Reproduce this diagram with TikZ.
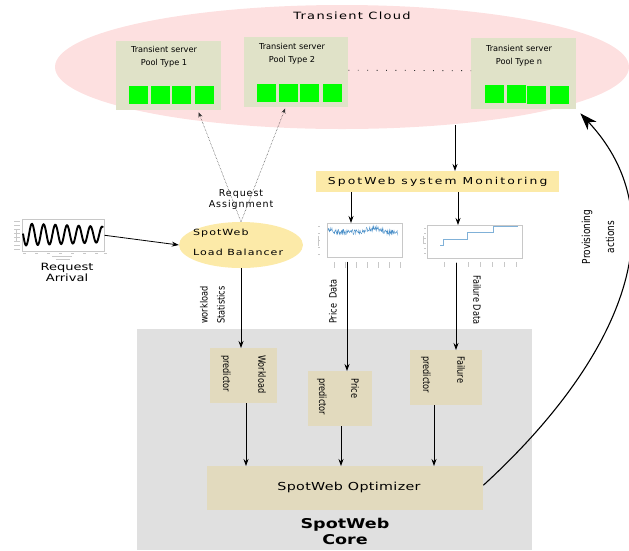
\documentclass[tikz,border=0pt]{standalone}
\usepackage{fontspec}
\setmainfont{DejaVu Sans}
\newfontfamily\widefont[LetterSpace=10]{DejaVu Sans}
\newfontfamily\extfont[FakeStretch=1.3]{DejaVu Sans}
\newfontfamily\condfont[FakeStretch=0.82]{DejaVu Sans}
\newcommand{\ls}[1]{\addfontfeature{LetterSpace=#1}}
\usetikzlibrary{arrows.meta,shapes.geometric,calc}
\definecolor{cloudpink}{HTML}{FDE0E0}
\definecolor{poolfill}{HTML}{E0E2C8}
\definecolor{srvgreen}{HTML}{00FF00}
\definecolor{yellowfill}{HTML}{FCEAA8}
\definecolor{corefill}{HTML}{E0E0E0}
\definecolor{predfill}{HTML}{E2DABE}
\definecolor{chartblue}{HTML}{4A8FC8}
\definecolor{chartgray}{HTML}{C8C8C8}
\tikzset{
  poolbox/.style={draw=none,fill=poolfill,inner sep=0,anchor=north west},
  srv/.style={draw=none,fill=srvgreen,inner sep=0,minimum width=19pt,minimum height=18pt,anchor=north west},
  pooltxt/.style={font=\fontsize{8.2}{13}\selectfont,align=center,inner sep=0},
  ybox/.style={draw=none,fill=yellowfill,inner sep=0,anchor=north west},
  predbox/.style={draw=none,fill=predfill,inner sep=0,anchor=north west},
  rlabel/.style={font=\condfont\fontsize{10}{12}\selectfont,inner sep=0},
  arr/.style={-{Stealth[length=7pt,width=5pt]},line width=0.8pt,black},
  dotarr/.style={densely dotted,line width=0.5pt,black!80,-{Stealth[length=5pt,width=4pt]}},
  chartframe/.style={draw=chartgray,line width=0.5pt},
  tick/.style={draw=chartgray,line width=0.4pt}
}
\begin{document}
\begin{tikzpicture}[x=1pt,y=-1pt]
\useasboundingbox (0,0) rectangle (629,550);
% core background
\node[draw=none,fill=corefill,inner sep=0,anchor=north west,minimum width=395pt,minimum height=221pt] (core) at (137,329) {};
% cloud
\node[ellipse,draw=none,fill=cloudpink,minimum width=574pt,minimum height=124pt,inner sep=0] (cloud) at (342,67) {};
\node[font=\extfont\ls{13}\fontsize{10}{13}\selectfont,inner sep=0] (cloudtitle) at (352,16) {Transient Cloud};
% pools
\node[poolbox,minimum width=105pt,minimum height=69pt] (pool1) at (116,41) {};
\node[poolbox,minimum width=104pt,minimum height=70pt] (pool2) at (244,37) {};
\node[poolbox,minimum width=105pt,minimum height=71pt] (pooln) at (471,38) {};
\node[pooltxt] (pool1t) at (164,57) {Transient server\\Pool Type 1};
\node[pooltxt] (pool2t) at (292,54) {Transient server\\Pool Type 2};
\node[pooltxt] (poolnt) at (519,56) {Transient server\\Pool Type n};
\node[srv] (s11) at (129,86) {};
\node[srv] (s12) at (151,86) {};
\node[srv] (s13) at (172,86) {};
\node[srv] (s14) at (195,86) {};
\node[srv] (s21) at (257,84) {};
\node[srv] (s22) at (279,84) {};
\node[srv] (s23) at (300,84) {};
\node[srv] (s24) at (323,84) {};
\node[srv] (sn1) at (485,85) {};
\node[srv] (sn2) at (507,85) {};
\node[srv] (sn3) at (527,86) {};
\node[srv] (sn4) at (550,86) {};
\draw[line width=0.9pt,black!80,dash pattern=on 0.9pt off 8.5pt] ($(pool2.east)+(0,-2)$) -- ($(pooln.west)+(0,-3)$);
% monitoring
\node[ybox,minimum width=243pt,minimum height=21pt,font=\extfont\ls{22}\fontsize{9.5}{11}\selectfont] (mon) at (316,171) {SpotWeb system Monitoring};
\coordinate (cloudout) at (455,125);
\draw[arr] (cloudout) -- (mon.north -| cloudout);
% load balancer
\node[ellipse,draw=none,fill=yellowfill,minimum width=124pt,minimum height=46pt,inner sep=0] (lb) at (241,245) {};
\node[font=\extfont\ls{12}\fontsize{8.5}{20}\selectfont,align=left,inner sep=0,anchor=west] (lbt) at (193,242) {SpotWeb\\Load Balancer};
\node[font=\widefont\fontsize{9.5}{11}\selectfont,align=center,inner sep=0] (ra) at (241,200) {Request\\Assignment};
\draw[dotarr] (lb.north) -- ($(pool1.south)+(30,2)$);
\draw[dotarr] (lb.north) -- ($(pool2.south)+(-11,1)$);
% request arrival chart
\node[chartframe,inner sep=0,minimum width=82pt,minimum height=32pt,anchor=north west] (rachart) at (22,219) {};
\foreach \yy in {221,225,229,233,237,241,245,249} \draw[tick] (14,\yy) -- (20,\yy);
\foreach \xx in {23,35,47,59,71,83,95,104} \draw[tick] (\xx,253) -- (\xx+3,253);
\draw[tick] (52,256) -- (72,256);
\draw[tick] (56,259) -- (70,259);
\draw[tick] (16,230) -- (16,242);
\draw[black,line width=1.9pt] plot[domain=23:103,samples=160,smooth] (\x,{234.5 - (11-0.04*(\x-23))*sin(30.77*(\x-29))});
\node[font=\extfont\fontsize{10}{11}\selectfont,align=center,inner sep=0] (rat) at (67,272) {Request\\Arrival};
\draw[arr] (rachart.east) -- (lb.west);
% price chart
\node[chartframe,inner sep=0,minimum width=75pt,minimum height=34pt,anchor=north west] (pchart) at (327,223) {};
\foreach \yy in {226,233,240,247,254} \draw[tick] (318,\yy) -- (320,\yy);
\foreach \xx in {334,345,356,367,378,389,400} \draw[tick] (\xx,262) -- (\xx,268);
\draw[tick] (318,236) -- (318,246);
\pgfmathsetseed{7}
\draw[chartblue,line width=0.4pt] plot[domain=328:398,samples=160] (\x,{232 - 4/(1+((\x-374)/9)^4) - 3/(1+((\x-330)/3)^2) + 0.8*(\x-328)/70 + 2.6*rand});
\coordinate (monp) at ($(mon.south west)+(35,0)$);
\draw[arr] (monp) -- (pchart.north -| monp);
% failure chart
\node[chartframe,inner sep=0,minimum width=95pt,minimum height=33pt,anchor=north west] (fchart) at (427,225) {};
\foreach \yy in {228,233,238,243,248,253} \draw[tick] (424,\yy) -- (426,\yy);
\foreach \xx in {444,456,468,480,492,504,516} \draw[tick] (\xx,262) -- (\xx,267);
\draw[tick] (423,236) -- (423,244);
\draw[chartblue!70,line width=0.5pt] (440,245) -- (443,245) -- (443,239) -- (467,239) -- (467,232) -- (493,232) -- (493,226) -- (518,226);
\draw[arr] ($(mon.south west)+(142,0)$) -- ($(fchart.north west)+(31,0)$);
% predictors
\node[predbox,minimum width=67pt,minimum height=55pt] (wp) at (210,348) {};
\node[predbox,minimum width=64pt,minimum height=55pt] (pp) at (308,371) {};
\node[predbox,minimum width=72pt,minimum height=55pt] (fp) at (410,350) {};
\node[rlabel,rotate=-90,anchor=west] (wp1) at (262,355) {Workload};
\node[rlabel,rotate=-90,anchor=west] (wp2) at (226,355) {predictor};
\node[rlabel,rotate=-90,anchor=west] (pp1) at (355,378) {Price};
\node[rlabel,rotate=-90,anchor=west] (pp2) at (322,378) {predictor};
\node[rlabel,rotate=-90,anchor=west] (fp1) at (461,356) {Failure};
\node[rlabel,rotate=-90,anchor=west] (fp2) at (426,356) {predictor};
% data labels
\node[rlabel,rotate=90,anchor=west] (ws1) at (204,324) {workload};
\node[rlabel,rotate=90,anchor=west] (ws2) at (221,324) {Statistics};
\node[rlabel,rotate=90,anchor=west] (pd) at (333,324) {Price\ \ Data};
\node[rlabel,rotate=-90,anchor=west] (fd) at (477,275) {Failure Data};
% arrows into predictors
\draw[arr] (lb.south) -- (lb.south |- wp.north);
\draw[arr] ($(pchart.south west)+(20,4)$) -- ($(pp.north west)+(39,0)$);
\draw[arr] ($(fchart.south west)+(29,4)$) -- ($(fp.north west)+(46,0)$);
% optimizer
\node[predbox,minimum width=276pt,minimum height=44pt] (opt) at (207,466) {};
\node[font=\extfont\ls{3}\fontsize{11}{12}\selectfont,inner sep=0] (optt) at (349,487) {SpotWeb Optimizer};
\draw[arr] ($(wp.south west)+(36,0)$) -- ($(opt.north west)+(39,0)$);
\draw[arr] ($(pp.south west)+(33,0)$) -- ($(opt.north west)+(134,0)$);
\draw[arr] ($(fp.south west)+(24,0)$) -- ($(opt.north west)+(227,0)$);
\node[font=\extfont\bfseries\fontsize{13.5}{16}\selectfont,align=center,inner sep=0] (coret) at (345,531) {SpotWeb\\Core};
% provisioning
\draw[line width=1.1pt,-{Stealth[length=17pt,width=12pt,inset=5pt]}] ($(opt.east)+(0,-3)$) .. controls (620,360) and (680,220) .. ($(pooln.south east)+(4,4)$);
\node[rlabel,rotate=90,align=center,font=\condfont\fontsize{11}{24}\selectfont] (prov) at (598,237) {Provisioning\\actions};
\end{tikzpicture}
\end{document}
